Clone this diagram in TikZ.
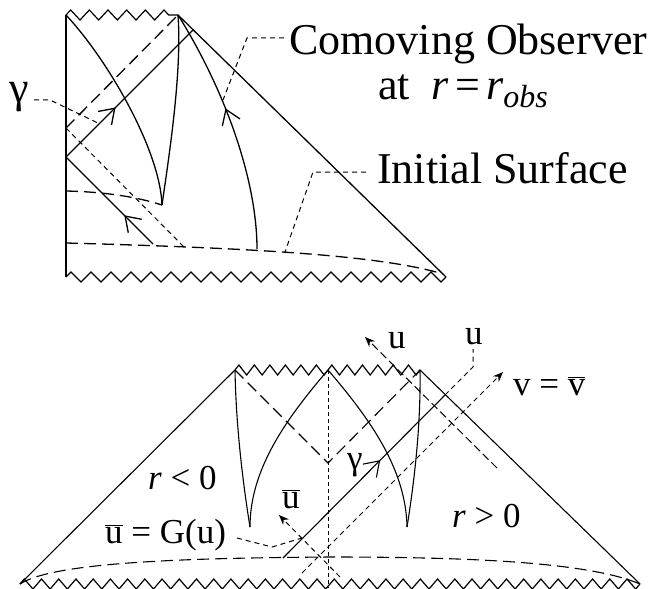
\documentclass[tikz,border=0pt]{standalone}
\usepackage{fontspec}
\setmainfont{Liberation Serif}
\usetikzlibrary{decorations.pathmorphing,decorations.markings,arrows.meta}
\newcommand\barit[1]{\ensuremath{\overline{\hbox{#1}}}}
\tikzset{
  solidln/.style={line width=1.1pt},
  usolid/.style={line width=1.3pt},
  ldash/.style={line width=1.1pt, dash pattern=on 12pt off 6pt},
  uldash/.style={line width=1.3pt, dash pattern=on 12pt off 6pt},
  mdash/.style={line width=1pt, dash pattern=on 8pt off 4pt},
  sdash/.style={line width=1pt, dash pattern=on 5pt off 4pt},
  vdash/.style={line width=0.9pt, dash pattern=on 4pt off 3pt},
  zz/.style={line width=1.2pt, decorate, decoration={zigzag, amplitude=5pt, segment length=#1}},
  barb/.style={postaction={decorate}, decoration={markings, mark=at position #1 with {\arrow{Straight Barb[length=14pt,width=19pt]}}}},
  rbarb/.style={postaction={decorate}, decoration={markings, mark=at position #1 with {\arrowreversed{Straight Barb[length=14pt,width=19pt]}}}},
  filltip/.style={-{Stealth[length=10pt,width=8pt]}},
  bigfont/.style={font=\fontsize{44}{48}\selectfont, inner sep=0pt},
  midfont/.style={font=\fontsize{35}{40}\selectfont, inner sep=0pt},
}
\begin{document}
\begin{tikzpicture}[x=1pt,y=-1pt]
\useasboundingbox (0,0) rectangle (652,588);
% ---------------- upper diagram ----------------
\coordinate (UTL) at (66,15);
\coordinate (UTR) at (178,15);
\coordinate (UBL) at (66,277);
\coordinate (UBR) at (446,277);
\coordinate (UA) at (66,157);
\coordinate (UB) at (66,128);
\coordinate (UC) at (66,191);
\coordinate (UD) at (66,243);
\coordinate (Ucusp) at (162,205);
\coordinate (Uhit) at (193,30);
\coordinate (Usol) at (153,244);
\coordinate (Udsh) at (183,246);
\coordinate (Uobs) at (257,249);
\coordinate (Uend) at (443,274);

\draw[usolid] (UTL) -- (UBL);
\draw[zz=18.67pt] (UTL) -- (UTR);
\draw[zz=20pt] (UBL) -- (UBR);
\draw[usolid] (UTR) -- (UBR);

\draw[usolid] (UTL) .. controls (108,60) and (160,150) .. (Ucusp);
\draw[usolid] (Ucusp) .. controls (170,150) and (182,70) .. (UTR);
\draw[usolid, barb=0.58] (Uobs) .. controls (257,180) and (225,90) .. (UTR);

\draw[usolid, barb=0.39] (UA) -- (Uhit);
\draw[usolid, rbarb=0.67] (UA) -- (Usol);
\draw[uldash] (UB) -- (UTR);
\draw[sdash] (UB) -- (Udsh);
\draw[uldash] (UC) .. controls (110,192) and (140,198) .. (Ucusp);
\draw[uldash] (UD) .. controls (250,248) and (380,255) .. (Uend);

% labels upper
\node[bigfont, anchor=base] (gup) at (19,103) {γ};
\node[bigfont, anchor=base west] (como) at (289,55) {Comoving Observer};
\node[bigfont, anchor=base west] (atr) at (378,100) {at\hspace{22pt}\textit{r}\hspace{6pt}=\hspace{6pt}\textit{r}\raisebox{-8pt}{\fontsize{32}{32}\selectfont\itshape obs}};
\node[bigfont, anchor=base west] (init) at (377,183) {Initial Surface};

\coordinate (gA) at (34,100);
\coordinate (gB) at (50,100);
\coordinate (gC) at (100,124);
\draw[sdash] (gA) -- (gB) -- (gC);
\coordinate (cA) at (284,38);
\coordinate (cB) at (247,38);
\coordinate (cC) at (223,100);
\draw[sdash] (cA) -- (cB) -- (cC);
\coordinate (iA) at (366,172);
\coordinate (iB) at (313,172);
\coordinate (iC) at (285,252);
\draw[sdash] (iA) -- (iB) -- (iC);

% ---------------- lower diagram ----------------
\coordinate (LBL) at (20,584);
\coordinate (LBR) at (640,584);
\coordinate (LTL) at (235,370);
\coordinate (LTC) at (328,370);
\coordinate (LTR) at (420,370);
\coordinate (LV) at (328,463);
\coordinate (Lcl) at (250,527);
\coordinate (Lcr) at (407,527);
\coordinate (Lg0) at (283,558);
\coordinate (Lg1) at (445,395);
\coordinate (Lgk) at (473,367);
\coordinate (Lgu) at (473,349);
\coordinate (Lv0) at (302,573);
\coordinate (Lv1) at (503,372);
\coordinate (Lu0) at (497,468);
\coordinate (Lu1) at (365,337);
\coordinate (Lb0) at (340,577);
\coordinate (Lb1) at (279,515);
\coordinate (Lvb) at (328,588);
\coordinate (Ltop) at (330,557);

\draw[solidln] (LBL) -- (LTL);
\draw[solidln] (LTR) -- (LBR);
\draw[zz=15.5pt] (LTL) -- (LTC);
\draw[zz=15.33pt] (LTC) -- (LTR);
\draw[zz=17.22pt] (LBL) -- (LBR);

\draw[ldash] (LTL) -- (LV) -- (LTR);
\draw[vdash] (LTC) -- (Lvb);

\draw[solidln] (LTL) .. controls (236,430) and (244,490) .. (Lcl);
\draw[solidln] (LTC) .. controls (285,420) and (250,470) .. (Lcl);
\draw[solidln] (LTC) .. controls (371,420) and (406,470) .. (Lcr);
\draw[solidln] (LTR) .. controls (421,430) and (413,490) .. (Lcr);

\draw[solidln, barb=0.6] (Lg0) -- (Lg1);
\draw[sdash] (Lg1) -- (Lgk) -- (Lgu);
\draw[sdash, filltip] (Lv0) -- (Lv1);
\draw[mdash, filltip] (Lu0) -- (Lu1);
\draw[sdash, filltip] (Lb0) -- (Lb1);

\draw[ldash] (LBL) .. controls (55,561) and (200,558) .. (Ltop)
             .. controls (480,557) and (590,563) .. (LBR);

\coordinate (qA) at (237,538);
\coordinate (qB) at (272,547);
\coordinate (qC) at (302,538);
\draw[sdash] (qA) -- (qB) -- (qC);

% labels lower
\node[midfont, anchor=base west] (rneg) at (148,489) {\textit{r} < 0};
\node[midfont, anchor=base west] (rpos) at (452,527) {\textit{r} > 0};
\node[midfont, anchor=base west] (ubarG) at (105,543) {\barit{u} = G(u)};
\node[midfont, anchor=base west] (ubar) at (282,508) {\barit{u}};
\node[midfont, anchor=base west] (glow) at (347,469) {γ};
\node[midfont, anchor=base west] (vv) at (513,395) {v = \barit{v}};
\node[midfont, anchor=base west] (u1) at (388,348) {u};
\node[midfont, anchor=base west] (u2) at (465,344) {u};
\end{tikzpicture}
\end{document}
